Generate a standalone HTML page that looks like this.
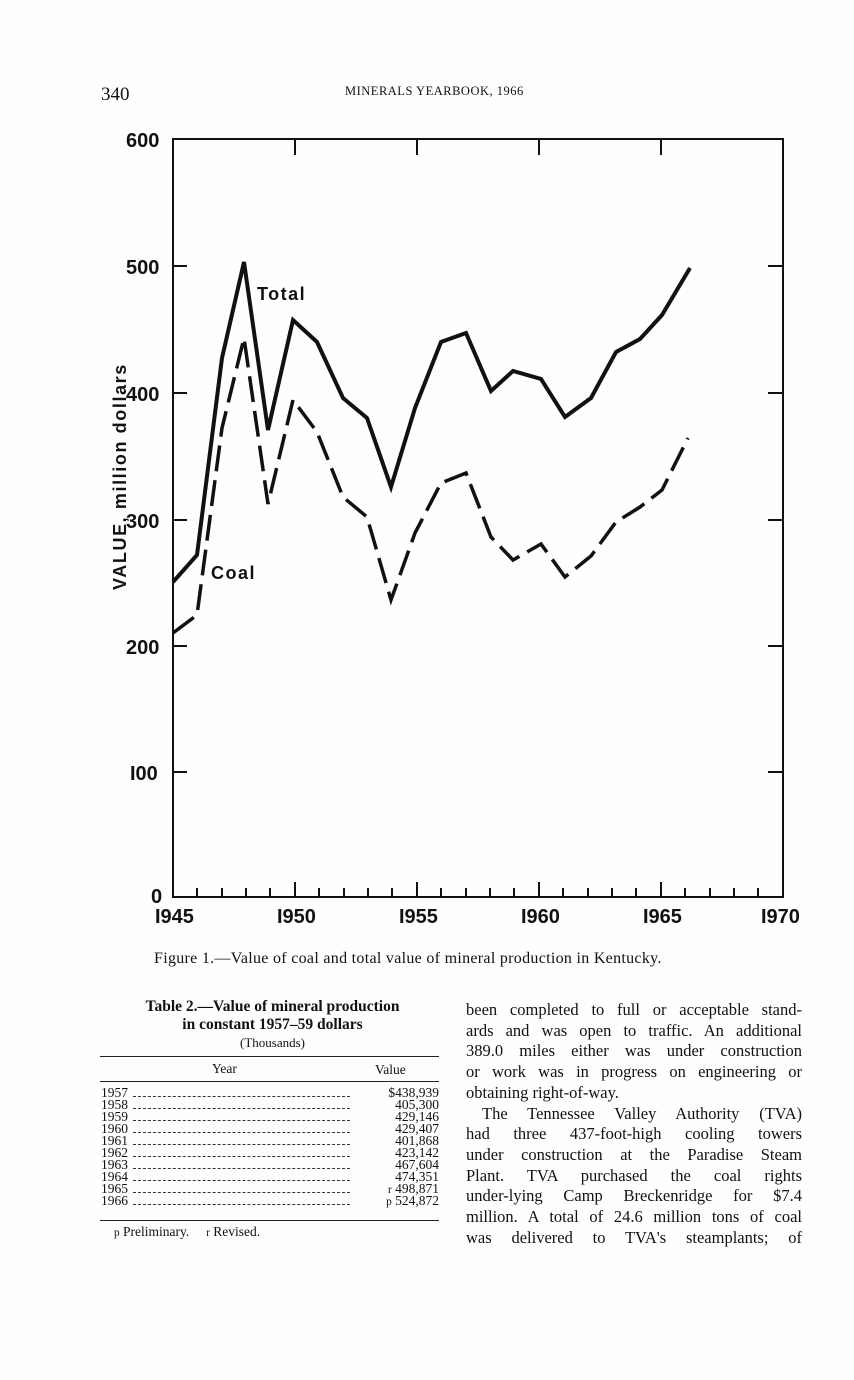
<!DOCTYPE html>
<html><head><meta charset="utf-8"><style>
body{margin:0;background:#fff;}
#p{position:relative;width:854px;height:1380px;background:#fefefe;overflow:hidden;font-family:"Liberation Serif",serif;color:#111;}
.a{position:absolute;white-space:nowrap;}
.rt{position:absolute;left:466px;width:336px;font-size:16.5px;line-height:20.7px;text-align:justify;text-align-last:justify;white-space:nowrap;}
.row{position:absolute;left:101px;width:338px;height:12px;font-size:13.5px;line-height:12px;}
.row .y{position:absolute;left:0;top:0;}
.row .d{position:absolute;left:32px;width:217px;top:9px;border-top:1.3px dashed #333;}
.row .v{position:absolute;right:0;top:0;}
</style></head><body><div id="p">
<div class="a" style="left:101px;top:84px;font-size:19px;">340</div>
<div class="a" style="left:345px;top:84px;font-size:12.5px;letter-spacing:0.5px;">MINERALS YEARBOOK, 1966</div>
<svg class="a" style="left:0;top:0" width="854" height="960" font-family="Liberation Sans, sans-serif" font-weight="bold">
<g stroke="#111" stroke-width="2" fill="none">
<rect x="173" y="139" width="610" height="758"/>
<path d="M295 139v16M417 139v16M539 139v16M661 139v16"/>
<path d="M783 266h-15M783 393h-15M783 520h-15M783 646h-15M783 772h-15"/>
<path d="M173 266h14M173 393h14M173 520h14M173 646h14M173 772h14"/>
<path d="M197 897v-9M222 897v-9M246 897v-9M270 897v-9M319 897v-9M344 897v-9M368 897v-9M392 897v-9M441 897v-9M466 897v-9M490 897v-9M514 897v-9M563 897v-9M588 897v-9M612 897v-9M636 897v-9M685 897v-9M710 897v-9M734 897v-9M758 897v-9"/>
<path d="M295 897v-15M417 897v-15M539 897v-15M661 897v-15"/>
</g>
<polyline fill="none" stroke="#111" stroke-width="4" points="173,582 197,555 222,358 244,262 268,430 293,320 317,342 343,398 367,418 391,487 415,408 441,342 466,333 491,391 513,371 541,379 565,417 591,398 616,352 640,339 662,315 690,268"/>
<polyline fill="none" stroke="#111" stroke-width="3.5" stroke-dasharray="26,9" points="173,633 197,615 222,428 244,338 268,504 293,400 317,432 343,497 367,517 391,600 415,533 441,483 466,473 491,537 513,560 541,544 565,577 591,556 616,522 640,507 662,490 688,438"/>
<g font-size="20" fill="#111">
<text x="126" y="147">600</text><text x="126" y="274">500</text><text x="126" y="401">400</text><text x="126" y="528">300</text><text x="126" y="654">200</text><text x="130" y="780">I00</text><text x="151" y="903">0</text>
<text x="155" y="923">I945</text><text x="277" y="923">I950</text><text x="399" y="923">I955</text><text x="521" y="923">I960</text><text x="643" y="923">I965</text><text x="761" y="923">I970</text>
<text x="257" y="300" font-size="18" letter-spacing="1.5">Total</text><text x="211" y="579" font-size="18" letter-spacing="1.5">Coal</text>
<text transform="translate(126,590) rotate(-90)" font-size="18" letter-spacing="1.6">VALUE, million dollars</text>
</g>
</svg>
<div class="a" style="left:154px;top:950px;font-size:16px;letter-spacing:0.3px;">Figure 1.—Value of coal and total value of mineral production in Kentucky.</div>
<div class="a" style="left:100px;top:998px;width:345px;text-align:center;font-weight:bold;font-size:15.5px;line-height:18px;">Table 2.—Value of mineral production<br>in constant 1957–59 dollars</div>
<div class="a" style="left:100px;top:1035px;width:345px;text-align:center;font-size:13px;">(Thousands)</div>
<div class="a" style="left:100px;top:1056px;width:339px;border-top:1.5px solid #222;"></div>
<div class="a" style="left:212px;top:1061px;font-size:13.5px;">Year</div>
<div class="a" style="left:375px;top:1062px;font-size:13.5px;">Value</div>
<div class="a" style="left:100px;top:1081px;width:339px;border-top:1.5px solid #222;"></div>
<div class="row" style="top:1087px"><span class="y">1957</span><span class="d"></span><span class="v">$438,939</span></div>
<div class="row" style="top:1099px"><span class="y">1958</span><span class="d"></span><span class="v">405,300</span></div>
<div class="row" style="top:1111px"><span class="y">1959</span><span class="d"></span><span class="v">429,146</span></div>
<div class="row" style="top:1123px"><span class="y">1960</span><span class="d"></span><span class="v">429,407</span></div>
<div class="row" style="top:1135px"><span class="y">1961</span><span class="d"></span><span class="v">401,868</span></div>
<div class="row" style="top:1147px"><span class="y">1962</span><span class="d"></span><span class="v">423,142</span></div>
<div class="row" style="top:1159px"><span class="y">1963</span><span class="d"></span><span class="v">467,604</span></div>
<div class="row" style="top:1171px"><span class="y">1964</span><span class="d"></span><span class="v">474,351</span></div>
<div class="row" style="top:1183px"><span class="y">1965</span><span class="d"></span><span class="v"><small>r</small> 498,871</span></div>
<div class="row" style="top:1195px"><span class="y">1966</span><span class="d"></span><span class="v"><small>p</small> 524,872</span></div>
<div class="a" style="left:100px;top:1220px;width:339px;border-top:1.5px solid #222;"></div>
<div class="a" style="left:114px;top:1224px;font-size:13.5px;"><small>p</small> Preliminary.&nbsp;&nbsp;&nbsp;&nbsp;&nbsp;<small>r</small> Revised.</div>
<div class="rt" style="top:1000px;">been completed to full or acceptable stand-</div>
<div class="rt" style="top:1020.7px;">ards and was open to traffic. An additional</div>
<div class="rt" style="top:1041.4px;">389.0 miles either was under construction</div>
<div class="rt" style="top:1062.1px;">or work was in progress on engineering or</div>
<div class="rt" style="top:1082.8px;text-align-last:left;">obtaining right-of-way.</div>
<div class="rt" style="top:1103.5px;padding-left:16px;width:320px;">The Tennessee Valley Authority (TVA)</div>
<div class="rt" style="top:1124.2px;">had three 437-foot-high cooling towers</div>
<div class="rt" style="top:1144.9px;">under construction at the Paradise Steam</div>
<div class="rt" style="top:1165.6px;">Plant. TVA purchased the coal rights</div>
<div class="rt" style="top:1186.3px;">under-lying Camp Breckenridge for $7.4</div>
<div class="rt" style="top:1207px;">million. A total of 24.6 million tons of coal</div>
<div class="rt" style="top:1227.7px;">was delivered to TVA's steamplants; of</div>
</div></body></html>
